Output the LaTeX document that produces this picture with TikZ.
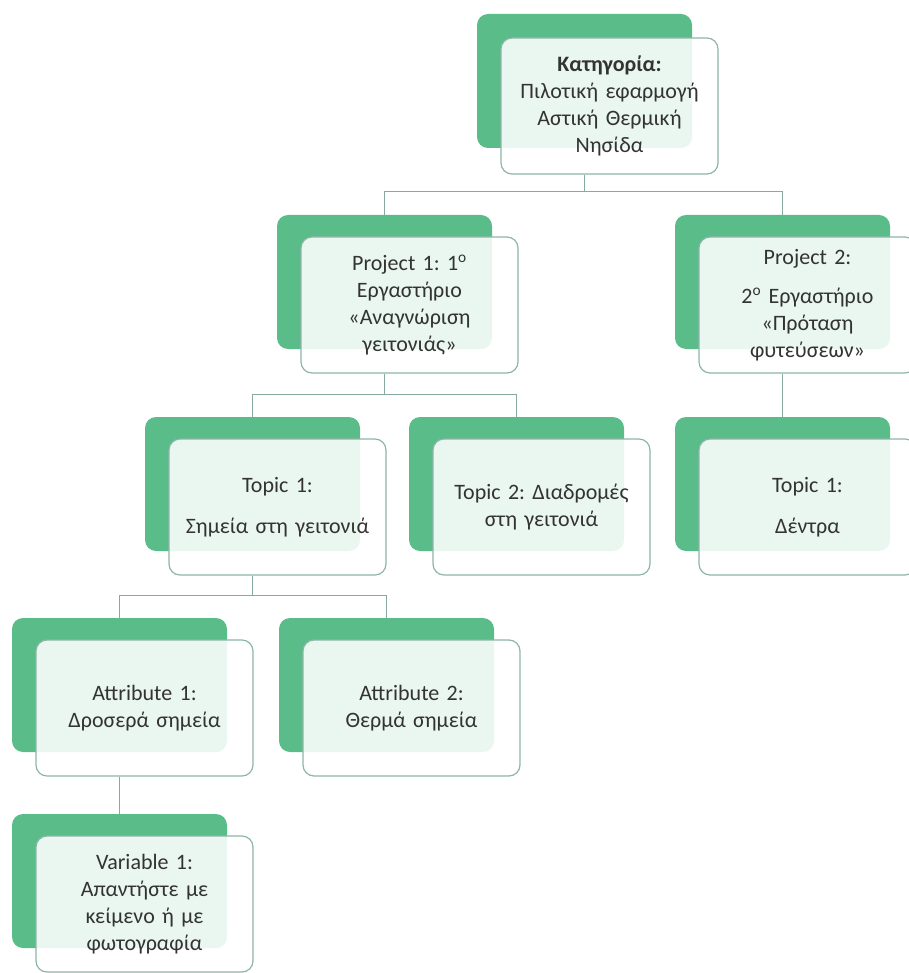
\documentclass[tikz,border=0pt]{standalone}
\usepackage{fontspec}
\setmainfont{Carlito}
\usepackage{xcolor}
\usetikzlibrary{positioning}
\frenchspacing

\definecolor{boxgreen}{HTML}{5ABD89}
\definecolor{boxline}{HTML}{8FB5A8}
\definecolor{linkline}{HTML}{86AAA2}
\definecolor{textgray}{HTML}{333333}

\begin{document}
\begin{tikzpicture}[x=1pt,y=-1pt,
        backbox/.style={rectangle,fill=boxgreen,rounded corners=11pt,
                minimum width=215pt,minimum height=134pt,inner sep=0pt},
        frontbox/.style={rectangle,draw=boxline,line width=1.2pt,fill=white,
                fill opacity=0.88,text opacity=1,rounded corners=11pt,
                minimum width=217pt,minimum height=136pt,inner sep=0pt,
                text width=210pt,align=center,text=textgray,
                font=\fontsize{22}{27}\selectfont},
        link/.style={draw=linkline,line width=1.3pt}]
        \useasboundingbox (0,0) rectangle (908,973);

        % category
        \node [backbox] (catbg) at (584.5,81) {};
        \node [frontbox] (cat) at (609.5,106) {\textbf{Κατηγορία:}\\Πιλοτική εφαρμογή\\Αστική Θερμική\\Νησίδα};

        % projects
        \node [backbox] (proj1bg) at (384.5,282) {};
        \node [frontbox] (proj1) at (409.5,305) {Project 1: 1\textsuperscript{ο}\\Εργαστήριο\\«Αναγνώριση\\γειτονιάς»};
        \node [backbox] (proj2bg) at (782.5,282) {};
        \node [frontbox] (proj2) at (807.5,305) {Project 2:\\[12pt]2\textsuperscript{ο} Εργαστήριο\\«Πρόταση\\φυτεύσεων»};

        % topics
        \node [backbox] (topic1bg) at (252.5,484) {};
        \node [frontbox] (topic1) at (277.5,507) {Topic 1:\\[14pt]Σημεία στη γειτονιά};
        \node [backbox] (topic2bg) at (516.5,484) {};
        \node [frontbox] (topic2) at (541.5,507) {Topic 2: Διαδρομές\\στη γειτονιά};
        \node [backbox] (treebg) at (782.5,484) {};
        \node [frontbox] (tree) at (807.5,507) {Topic 1:\\[14pt]Δέντρα};

        % attributes
        \node [backbox] (attr1bg) at (119.5,685) {};
        \node [frontbox] (attr1) at (144.5,708) {Attribute 1:\\Δροσερά σημεία};
        \node [backbox] (attr2bg) at (386.5,685) {};
        \node [frontbox] (attr2) at (411.5,708) {Attribute 2:\\Θερμά σημεία};

        % variable
        \node [backbox] (var1bg) at (119.5,881) {};
        \node [frontbox] (var1) at (144.5,904) {Variable 1:\\Απαντήστε με\\κείμενο ή με\\φωτογραφία};

        \draw [link] (catbg |- cat.south) -- ++(0,17) -| (proj1bg.north);
        \draw [link] (catbg |- cat.south) -- ++(0,17) -| (proj2bg.north);
        \draw [link] (proj1bg |- proj1.south) -- ++(0,21) -| (topic1bg.north);
        \draw [link] (proj1bg |- proj1.south) -- ++(0,21) -| (topic2bg.north);
        \draw [link] (proj2bg |- proj2.south) -- (treebg.north);
        \draw [link] (topic1bg |- topic1.south) -- ++(0,20) -| (attr1bg.north);
        \draw [link] (topic1bg |- topic1.south) -- ++(0,20) -| (attr2bg.north);
        \draw [link] (attr1bg |- attr1.south) -- (var1bg.north);
    \end{tikzpicture}
\end{document}
